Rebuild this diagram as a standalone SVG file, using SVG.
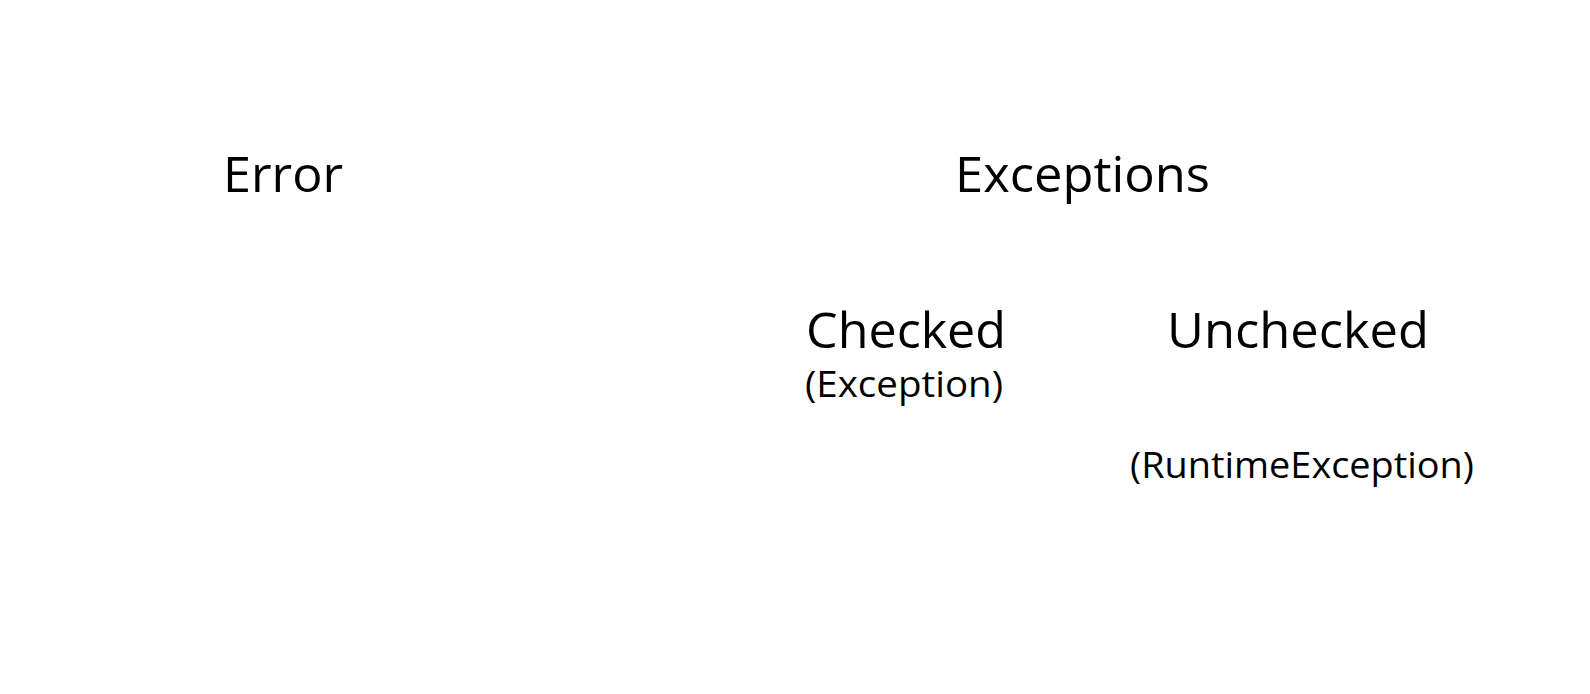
<svg xmlns="http://www.w3.org/2000/svg" width="1590" height="694" viewBox="0 0 1590 694">
  <style>
    .lbl { font-family: "Open Sans", "Liberation Sans", sans-serif; fill: #000; }
    .big { font-size: 50px; }
    .small { font-size: 36px; }
  </style>
  <rect x="0" y="0" width="1590" height="694" fill="#fff"/>
  <g id="error">
    <text class="lbl big" x="223" y="192" textLength="120" lengthAdjust="spacingAndGlyphs">Error</text>
  </g>
  <g id="exceptions">
    <text class="lbl big" x="955" y="192" textLength="255" lengthAdjust="spacingAndGlyphs">Exceptions</text>
  </g>
  <g id="checked">
    <text class="lbl big" x="806" y="348" textLength="200" lengthAdjust="spacingAndGlyphs">Checked</text>
    <text class="lbl small" x="805" y="397" textLength="198" lengthAdjust="spacingAndGlyphs">(Exception)</text>
  </g>
  <g id="unchecked">
    <text class="lbl big" x="1167" y="348" textLength="262" lengthAdjust="spacingAndGlyphs">Unchecked</text>
    <text class="lbl small" x="1130" y="478" textLength="344" lengthAdjust="spacingAndGlyphs">(RuntimeException)</text>
  </g>
  <g id="connectors"/>
</svg>
